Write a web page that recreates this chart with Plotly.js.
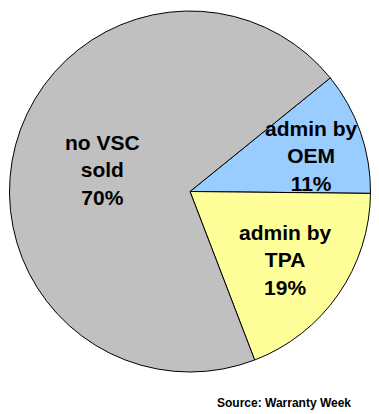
<!DOCTYPE html>
<html>
<head>
<meta charset="utf-8">
<script src="https://cdn.plot.ly/plotly-3.0.1.min.js"></script>
<style>html,body{margin:0;padding:0;background:#fff;}#chart{width:379px;height:414px;}</style>
</head>
<body>
<div id="chart"></div>
<script>
// Data
var categories = ['admin by OEM', 'admin by TPA', 'no VSC sold'];
var labelLines = [['admin by', 'OEM'], ['admin by', 'TPA'], ['no VSC', 'sold']];
var shares = [11, 19, 70];
var sourceNote = 'Source: Warranty Week';

// Styling / positions (kept separate from data)
var sliceColors = ['#99CCFF', '#FFFF99', '#C0C0C0'];
var labelCenters = [[311, 156], [285, 260], [102, 170]]; // pixel centers
var W = 379, H = 414;

var annotations = categories.map(function (c, i) {
  return {
    xref: 'paper', yref: 'paper',
    x: labelCenters[i][0] / W, y: 1 - labelCenters[i][1] / H,
    xanchor: 'center', yanchor: 'middle',
    text: labelLines[i].concat([shares[i] + '%']).join('<br>'),
    showarrow: false,
    font: {family: 'Liberation Sans, Arial, sans-serif', size: 21, color: '#000', weight: 'bold'}
  };
});
annotations.push({
  xref: 'paper', yref: 'paper',
  x: 353 / W, y: 1 - 403 / H,
  xanchor: 'right', yanchor: 'middle',
  text: sourceNote, showarrow: false,
  font: {family: 'Liberation Sans, Arial, sans-serif', size: 12, color: '#000', weight: 'bold'}
});

var trace = {
  type: 'pie',
  labels: categories,
  values: shares,
  sort: false,
  direction: 'clockwise',
  rotation: 51,
  textinfo: 'none',
  hoverinfo: 'label+percent',
  marker: {colors: sliceColors, line: {color: '#000', width: 1}},
  domain: {x: [9.5 / W, 370.5 / W], y: [(H - 372) / H, (H - 11) / H]},
  showlegend: false
};

var layout = {
  width: W, height: H,
  margin: {l: 0, r: 0, t: 0, b: 0},
  paper_bgcolor: '#fff',
  showlegend: false,
  annotations: annotations
};

Plotly.newPlot('chart', [trace], layout, {displayModeBar: false, staticPlot: true});
</script>
</body>
</html>
